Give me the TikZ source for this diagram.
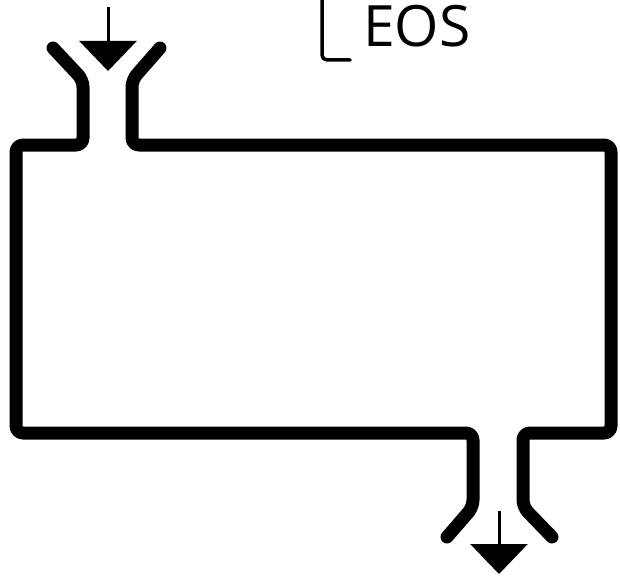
\documentclass[tikz,border=0pt]{standalone}
\usepackage{fontspec}
\setmainfont{Open Sans}
\usepackage{tikz}
\usetikzlibrary{arrows.meta, positioning, calc}
\tikzstyle{wall} = [line width=13pt, line join=round, line cap=round, rounded corners=7pt]
\tikzstyle{flow} = [line width=3pt, -{Triangle[width=57pt,length=30pt]}]

\begin{document}
\begin{tikzpicture}[x=1pt, y=-1pt]
    \useasboundingbox (0,0) rectangle (620,575);

    % Vessel outline with inlet and outlet
    \draw[wall] (160,48) -- (132,80) -- (132,145) -- (611,145) -- (611,433)
        -- (523,433) -- (523,507) -- (552,537);
    \draw[wall] (53,48) -- (83,80) -- (83,145) -- (16,145) -- (16,433)
        -- (473,433) -- (473,507) -- (447,537);

    % Inlet and outlet arrows
    \coordinate (inA) at (108,7);
    \coordinate (inB) at (108,71);
    \coordinate (outA) at (499,511);
    \coordinate (outB) at (499,574);
    \draw[flow] (inA) -- (inB);
    \draw[flow] (outA) -- (outB);

    % Label
    \draw[line width=3.5pt, line cap=round, rounded corners=5pt] (322,0) -- (322,60) -- (350,60);
    \node[anchor=base west, inner sep=0pt, font=\fontsize{57}{60}\selectfont] (eos) at (363,47) {EOS};
\end{tikzpicture}
\end{document}
